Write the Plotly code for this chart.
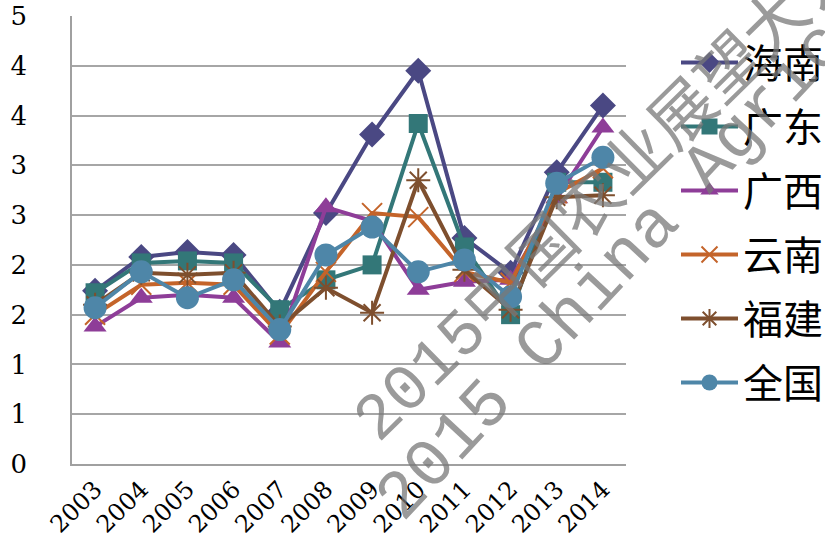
import plotly.graph_objects as go

years = ["2003", "2004", "2005", "2006", "2007", "2008", "2009", "2010", "2011", "2012", "2013", "2014"]
hainan = [1.74, 2.08, 2.13, 2.10, 1.53, 2.52, 3.31, 3.95, 2.27, 1.92, 2.93, 3.60]
guangdong = [1.72, 2.02, 2.04, 2.02, 1.55, 1.85, 2.00, 3.42, 2.18, 1.50, 2.83, 2.83]
guangxi = [1.38, 1.67, 1.70, 1.67, 1.22, 2.58, 2.44, 1.75, 1.83, 1.85, 2.67, 3.38]
yunnan = [1.50, 1.80, 1.82, 1.80, 1.30, 1.93, 2.52, 2.48, 1.93, 1.82, 2.72, 2.97]
fujian = [1.60, 1.92, 1.90, 1.92, 1.38, 1.77, 1.52, 2.85, 1.95, 1.55, 2.68, 2.70]
national = [1.57, 1.93, 1.67, 1.85, 1.35, 2.10, 2.38, 1.93, 2.05, 1.68, 2.82, 3.08]

series_names = ["海南", "广东", "广西", "云南", "福建", "全国"]
y_tickvals = [0, 0.5, 1, 1.5, 2, 2.5, 3, 3.5, 4, 4.5]
y_ticktext = ["0", "1", "1", "2", "2", "3", "3", "4", "4", "5"]
watermark_cn = "2015中国农业展望大会"
watermark_en = "2015 China Agricultural"

series = [hainan, guangdong, guangxi, yunnan, fujian, national]
colors = ["#4A4883", "#337778", "#8E3D98", "#C4642A", "#7E4F2E", "#4E86A8"]
symbols = ["diamond", "square", "triangle-up", "x-thin", "asterisk", "circle"]
sizes = [20, 19, 20, 20, 20, 23]

FW, FH = 825, 543
L, R, T, B = 72, 626, 16, 464
W, H = R - L, B - T

fig = go.Figure()
for i, (name, vals) in enumerate(zip(series_names, series)):
    marker = dict(symbol=symbols[i], size=sizes[i], color=colors[i])
    if symbols[i] in ("x-thin", "asterisk"):
        marker["line"] = dict(color=colors[i], width=2)
    else:
        marker["line"] = dict(width=0)
    fig.add_trace(go.Scatter(
        x=years, y=vals, name=name, mode="lines+markers",
        line=dict(color=colors[i], width=4),
        marker=marker, legendgroup=name,
    ))

wm_color = "rgba(120,120,120,0.75)"
fig.add_annotation(text=watermark_cn, xref="paper", yref="paper",
                   x=(607 - L) / W, y=(B - 194) / H, showarrow=False, textangle=-44.5,
                   font=dict(family="Liberation Mono, Noto Sans CJK SC", size=65, color=wm_color),
                   xanchor="center", yanchor="middle")
fig.add_annotation(text=watermark_en, xref="paper", yref="paper",
                   x=(709 - L) / W, y=(B - 167) / H, showarrow=False, textangle=-47,
                   font=dict(family="Liberation Mono, Noto Sans CJK SC", size=68, color=wm_color),
                   xanchor="center", yanchor="middle")

fig.update_layout(
    width=FW, height=FH,
    margin=dict(l=L, r=FW - R, t=T, b=FH - B, autoexpand=False),
    paper_bgcolor="white", plot_bgcolor="white",
    font=dict(family="DejaVu Serif", color="black"),
    legend=dict(
        x=(676 - L) / W, y=(B - 30) / H, xanchor="left", yanchor="top",
        font=dict(family="Noto Sans CJK SC", size=40, color="black"),
        itemwidth=57, traceorder="grouped", tracegroupgap=9,
        bgcolor="rgba(0,0,0,0)",
    ),
    xaxis=dict(
        type="category", range=[-0.5, 11.5], showgrid=False,
        showline=True, linecolor="#A0A0A0", linewidth=1.5,
        tickangle=-45, tickfont=dict(family="DejaVu Serif", size=24),
        ticks="", automargin=False,
    ),
    yaxis=dict(
        range=[0, 4.5], tickvals=y_tickvals, ticktext=y_ticktext,
        showgrid=True, gridcolor="#A6A6A6", gridwidth=1.5,
        showline=True, linecolor="#A0A0A0", linewidth=1.5,
        tickfont=dict(family="DejaVu Serif", size=26),
        ticks="", ticklabelstandoff=38, zeroline=False, automargin=False,
        ticklabeloverflow="allow",
    ),
)

fig.write_html("out.html", config={"displayModeBar": False},
               post_script="document.body.style.margin='0';document.body.style.overflow='hidden';")
